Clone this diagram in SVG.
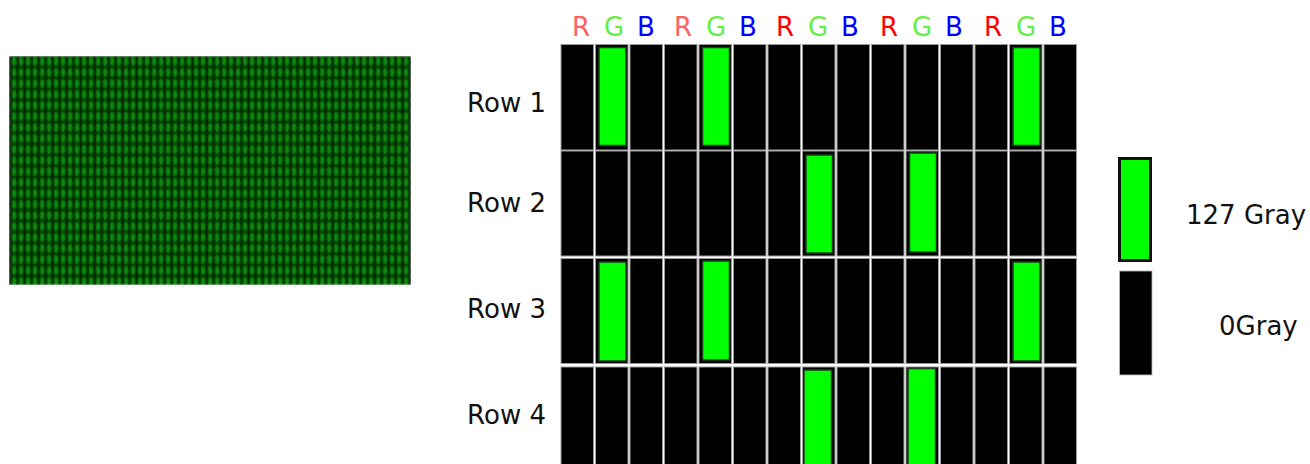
<svg xmlns="http://www.w3.org/2000/svg" width="1310" height="464" viewBox="0 0 1310 464">
  <style>
    .lbl { font-family: "DejaVu Sans", Verdana, sans-serif; font-size: 26px; fill: #111; }
    .col { font-family: "DejaVu Sans", Verdana, sans-serif; font-size: 26px; text-anchor: middle; }
    .r1 { fill: #ff6060; }
    .r2 { fill: #ff0000; }
    .g { fill: #66ee44; }
    .b { fill: #0000ff; }
    .cell { fill: #000; stroke: #9a9a9a; stroke-width: 1; }
    .on { fill: #00ff00; stroke: #1f3a1f; stroke-width: 1.5; }
  </style>
  <defs>
    <!-- sub-pixel texture: green emitters between black gaps -->
    <pattern id="subpix" patternUnits="userSpaceOnUse" x="9" y="56" width="7" height="11">
      <rect width="7" height="11" fill="#003000"/>
      <ellipse cx="5" cy="5.5" rx="2" ry="4.2" fill="#0b960b"/>
      <ellipse cx="1.5" cy="5.5" rx="1.8" ry="4.6" fill="#000"/>
    </pattern>
    <filter id="soft" x="0" y="0" width="1" height="1">
      <feGaussianBlur stdDeviation="0.8"/>
    </filter>
  </defs>

  <!-- panel preview -->
  <g id="preview">
    <rect x="9" y="56" width="402" height="229" fill="url(#subpix)" filter="url(#soft)"/>
  </g>

  <!-- sub-pixel column headers -->
  <g id="headers">
    <text class="col r1" x="581" y="36">R</text>
    <text class="col g" x="614" y="36">G</text>
    <text class="col b" x="646" y="36">B</text>
    <text class="col r1" x="683" y="36">R</text>
    <text class="col g" x="716" y="36">G</text>
    <text class="col b" x="748" y="36">B</text>
    <text class="col r2" x="785" y="36">R</text>
    <text class="col g" x="818" y="36">G</text>
    <text class="col b" x="850" y="36">B</text>
    <text class="col r2" x="889" y="36">R</text>
    <text class="col g" x="922" y="36">G</text>
    <text class="col b" x="954" y="36">B</text>
    <text class="col r2" x="993" y="36">R</text>
    <text class="col g" x="1026" y="36">G</text>
    <text class="col b" x="1058" y="36">B</text>
  </g>

  <!-- row labels -->
  <g id="row-labels">
    <text class="lbl" x="546" y="112" text-anchor="end">Row 1</text>
    <text class="lbl" x="546" y="212" text-anchor="end">Row 2</text>
    <text class="lbl" x="546" y="318" text-anchor="end">Row 3</text>
    <text class="lbl" x="546" y="424" text-anchor="end">Row 4</text>
  </g>

  <!-- sub-pixel grid: 15 columns x 4 rows -->
  <g id="grid">
    <g id="row1">
      <rect class="cell" x="561" y="44.5" width="32.5" height="105.5"/>
      <rect class="cell" x="595.5" y="44.5" width="32.5" height="105.5"/>
      <rect class="cell" x="630" y="44.5" width="32.5" height="105.5"/>
      <rect class="cell" x="664.5" y="44.5" width="32.5" height="105.5"/>
      <rect class="cell" x="699" y="44.5" width="32.5" height="105.5"/>
      <rect class="cell" x="733.5" y="44.5" width="32.5" height="105.5"/>
      <rect class="cell" x="768" y="44.5" width="32.5" height="105.5"/>
      <rect class="cell" x="802.5" y="44.5" width="32.5" height="105.5"/>
      <rect class="cell" x="837" y="44.5" width="32.5" height="105.5"/>
      <rect class="cell" x="871.5" y="44.5" width="32.5" height="105.5"/>
      <rect class="cell" x="906" y="44.5" width="32.5" height="105.5"/>
      <rect class="cell" x="940.5" y="44.5" width="32.5" height="105.5"/>
      <rect class="cell" x="975" y="44.5" width="32.5" height="105.5"/>
      <rect class="cell" x="1009.5" y="44.5" width="32.5" height="105.5"/>
      <rect class="cell" x="1044" y="44.5" width="32.5" height="105.5"/>
      <rect class="on" x="599" y="47.5" width="27" height="98"/>
      <rect class="on" x="702.5" y="47.5" width="27" height="98"/>
      <rect class="on" x="1013" y="47.5" width="27" height="98"/>
    </g>
    <g id="row2">
      <rect class="cell" x="561" y="151" width="32.5" height="105"/>
      <rect class="cell" x="595.5" y="151" width="32.5" height="105"/>
      <rect class="cell" x="630" y="151" width="32.5" height="105"/>
      <rect class="cell" x="664.5" y="151" width="32.5" height="105"/>
      <rect class="cell" x="699" y="151" width="32.5" height="105"/>
      <rect class="cell" x="733.5" y="151" width="32.5" height="105"/>
      <rect class="cell" x="768" y="151" width="32.5" height="105"/>
      <rect class="cell" x="802.5" y="151" width="32.5" height="105"/>
      <rect class="cell" x="837" y="151" width="32.5" height="105"/>
      <rect class="cell" x="871.5" y="151" width="32.5" height="105"/>
      <rect class="cell" x="906" y="151" width="32.5" height="105"/>
      <rect class="cell" x="940.5" y="151" width="32.5" height="105"/>
      <rect class="cell" x="975" y="151" width="32.5" height="105"/>
      <rect class="cell" x="1009.5" y="151" width="32.5" height="105"/>
      <rect class="cell" x="1044" y="151" width="32.5" height="105"/>
      <rect class="on" x="806" y="155" width="26.5" height="98"/>
      <rect class="on" x="909.5" y="153" width="27" height="99"/>
    </g>
    <g id="row3">
      <rect class="cell" x="561" y="258.5" width="32.5" height="105"/>
      <rect class="cell" x="595.5" y="258.5" width="32.5" height="105"/>
      <rect class="cell" x="630" y="258.5" width="32.5" height="105"/>
      <rect class="cell" x="664.5" y="258.5" width="32.5" height="105"/>
      <rect class="cell" x="699" y="258.5" width="32.5" height="105"/>
      <rect class="cell" x="733.5" y="258.5" width="32.5" height="105"/>
      <rect class="cell" x="768" y="258.5" width="32.5" height="105"/>
      <rect class="cell" x="802.5" y="258.5" width="32.5" height="105"/>
      <rect class="cell" x="837" y="258.5" width="32.5" height="105"/>
      <rect class="cell" x="871.5" y="258.5" width="32.5" height="105"/>
      <rect class="cell" x="906" y="258.5" width="32.5" height="105"/>
      <rect class="cell" x="940.5" y="258.5" width="32.5" height="105"/>
      <rect class="cell" x="975" y="258.5" width="32.5" height="105"/>
      <rect class="cell" x="1009.5" y="258.5" width="32.5" height="105"/>
      <rect class="cell" x="1044" y="258.5" width="32.5" height="105"/>
      <rect class="on" x="599" y="262" width="27" height="99"/>
      <rect class="on" x="702.5" y="261" width="27" height="99"/>
      <rect class="on" x="1013" y="262" width="27" height="99"/>
    </g>
    <g id="row4">
      <rect class="cell" x="561" y="367" width="32.5" height="105"/>
      <rect class="cell" x="595.5" y="367" width="32.5" height="105"/>
      <rect class="cell" x="630" y="367" width="32.5" height="105"/>
      <rect class="cell" x="664.5" y="367" width="32.5" height="105"/>
      <rect class="cell" x="699" y="367" width="32.5" height="105"/>
      <rect class="cell" x="733.5" y="367" width="32.5" height="105"/>
      <rect class="cell" x="768" y="367" width="32.5" height="105"/>
      <rect class="cell" x="802.5" y="367" width="32.5" height="105"/>
      <rect class="cell" x="837" y="367" width="32.5" height="105"/>
      <rect class="cell" x="871.5" y="367" width="32.5" height="105"/>
      <rect class="cell" x="906" y="367" width="32.5" height="105"/>
      <rect class="cell" x="940.5" y="367" width="32.5" height="105"/>
      <rect class="cell" x="975" y="367" width="32.5" height="105"/>
      <rect class="cell" x="1009.5" y="367" width="32.5" height="105"/>
      <rect class="cell" x="1044" y="367" width="32.5" height="105"/>
      <rect class="on" x="804" y="370" width="27.5" height="100"/>
      <rect class="on" x="908" y="368.5" width="27.5" height="100"/>
    </g>
  </g>

  <!-- legend -->
  <g id="legend-on">
    <rect x="1119.5" y="158.5" width="31" height="102" fill="#00ff00" stroke="#111" stroke-width="3"/>
    <text class="lbl" x="1186" y="224">127 Gray</text>
  </g>
  <g id="legend-off">
    <rect x="1119.5" y="271" width="32.5" height="104" fill="#000" stroke="#bbb" stroke-width="0.8"/>
    <text class="lbl" x="1219" y="335">0Gray</text>
  </g>
</svg>
